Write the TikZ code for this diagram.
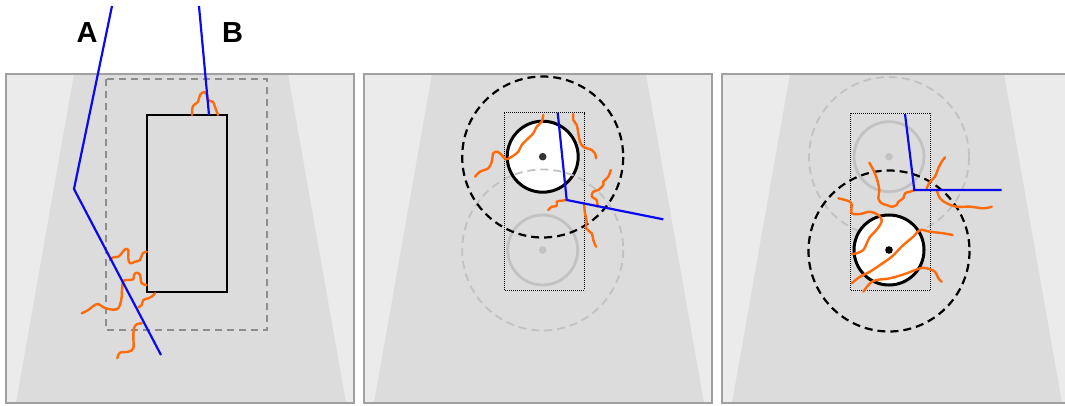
\documentclass[tikz,border=0pt]{standalone}
\usepackage{fontspec}
\setmainfont{Liberation Sans}
\usetikzlibrary{calc}

\definecolor{panelgray}{HTML}{EBEBEB}
\definecolor{roadgray}{HTML}{DCDCDC}
\definecolor{rimgray}{HTML}{A0A0A0}
\definecolor{crackorange}{HTML}{FF6A0A}
\definecolor{rayblue}{HTML}{0A0AF0}
\definecolor{ghostgray}{HTML}{C2C2C2}
\definecolor{boxgray}{HTML}{8E8E8E}

\tikzset{
  wiggle/.style={crackorange, line width=2.4pt, line cap=round, line join=round},
  ray/.style={rayblue, line width=2.2pt, line join=miter},
  zone/.style={black, line width=0.9pt, dash pattern=on 1pt off 1pt},
  reach/.style={black, line width=2.2pt, dash pattern=on 8pt off 5pt},
  ghostreach/.style={ghostgray, line width=1.8pt, dash pattern=on 8pt off 5pt},
  ghostwheel/.style={ghostgray, line width=2.8pt},
  wheel/.style={draw=black, fill=white, line width=3pt},
  tag/.style={font=\fontsize{29}{29}\selectfont\bfseries, inner sep=0pt}
}

\begin{document}
\begin{tikzpicture}[x=1pt, y=-1pt]
  \useasboundingbox (0,0) rectangle (1065,406);
  % panels
  \foreach \left in {6, 364, 722}{
    \fill[panelgray] (\left,74) rectangle ++(348,329);
    \fill[roadgray] (\left+68,74) -- (\left+282,74) -- (\left+340,403) -- (\left+10,403) -- cycle;
    \draw[rimgray, line width=1.2pt] (\left,74) rectangle ++(348,329);
  }

  % left panel
  \draw[boxgray, line width=2pt, dash pattern=on 7pt off 5pt] (106,79) rectangle (267,330);
  \draw[black, line width=2pt] (147,115) rectangle (227,292);
  \draw[wiggle] plot[smooth, tension=.6] coordinates {(192,115) (193,106) (198,102) (200,95) (204,92) (207,95) (208,100) (213,102) (215,107) (218,115)};
  \draw[wiggle] plot[smooth, tension=.6] coordinates {(146.7,251.7) (142.7,253.3) (140,260) (135,261.7) (130,263.3) (128.3,258.3) (128.3,250) (125,249.3) (121.7,253.3) (118.3,256.7) (113.3,257.3) (110,260)};
  \draw[wiggle] plot[smooth, tension=.6] coordinates {(146.7,285) (141.7,283.3) (140,275) (136.7,272.7) (134,275) (133.3,279.3) (128.3,280) (123.3,281) (122,290) (121.7,296.7) (120,305) (116.7,309.3) (110,309.3) (103.3,307.3) (98.3,304) (93.3,306) (88.3,310) (81.7,313.3)};
  \draw[wiggle] plot[smooth, tension=.6] coordinates {(155,293.3) (151.7,296.7) (148.3,298.3) (143.3,300) (141.7,305) (138.3,307.3)};
  \draw[wiggle] plot[smooth, tension=.6] coordinates {(141.7,323.3) (136.7,324.3) (134,328.3) (133.3,336.7) (133.3,348.3) (128.3,351.7) (120,352.7) (117.3,358.3)};
  \draw[ray] (112,6) -- (74,189) -- (161,355);
  \draw[ray] (199,6) -- (209,115);
  \node[tag] (labA) at (87,33) {A};
  \node[tag] (labB) at (232.5,33) {B};

  % middle panel
  \draw[wheel] (542.7,156.7) circle[radius=35.5];
  \fill[black!80] (542.7,156.7) circle[radius=3.8];
  \draw[ghostwheel] (542.7,250) circle[radius=35];
  \fill[ghostgray] (542.7,250) circle[radius=3.8];
  \draw[ghostreach] (542.7,250) circle[radius=80.5];
  \draw[zone] (504.3,112.7) rectangle (584.3,290);
  \draw[reach] (542.7,157) circle[radius=80.5];
  \draw[wiggle] plot[smooth, tension=.6] coordinates {(543.3,115) (541.7,121.7) (536.7,126.7) (533.3,133.3) (528.3,138.3) (521.7,145) (518.3,151.7) (511.7,156.7) (506,159.3) (501.7,155) (497.3,151.7) (493.3,153.3) (491.7,161.7) (488.3,168.3) (480,171.7) (475,176.7)};
  \draw[wiggle] plot[smooth, tension=.6] coordinates {(573.3,114) (573.3,120) (576.7,125) (578.3,133.3) (580,141.7) (583.3,146.7) (591.7,150) (595,153.3) (596,158.3)};
  \draw[wiggle] plot[smooth, tension=.6] coordinates {(610.7,170) (608.3,176.7) (603.3,181.7) (603.3,185) (598.3,190) (593.3,191.7) (591.7,196.7) (596.7,200) (597.3,206.7)};
  \draw[wiggle] plot[smooth, tension=.6] coordinates {(566.7,200) (561.7,200.7) (556.7,201.7) (556.7,206) (551.7,206.7) (548.3,210)};
  \draw[wiggle] plot[smooth, tension=.6] coordinates {(584,203.3) (585,213.3) (586.7,221.7) (586,228.3) (591.7,233.3) (593.3,240) (596,246.7)};
  \draw[ray] (557.7,112.7) -- (566.7,200) -- (663.3,219.3);

  % right panel
  \draw[ghostwheel] (889,156.7) circle[radius=35];
  \fill[ghostgray] (889,156.7) circle[radius=3.8];
  \draw[ghostreach] (889,157) circle[radius=80];
  \draw[wheel] (889,250) circle[radius=35];
  \fill[black] (889,250) circle[radius=3.8];
  \draw[zone] (850.7,113.3) rectangle (930.7,290.7);
  \draw[reach] (889,251) circle[radius=80.5];
  \draw[wiggle] plot[smooth, tension=.6] coordinates {(915,190) (910,191.7) (905,193.3) (903.3,198.3) (898.3,201.7) (896.7,205) (891.7,206.7) (886.7,205) (881.7,203.3) (878.3,198.3) (879.3,190) (876.7,178.3) (873.3,170) (869.3,162.7)};
  \draw[wiggle] plot[smooth, tension=.6] coordinates {(926.7,188.3) (930,181.7) (935,176.7) (938.3,168.3) (941.7,161.7) (945,157.3)};
  \draw[wiggle] plot[smooth, tension=.6] coordinates {(936.7,190) (940,198.3) (946.7,203.3) (956.7,206.7) (970,206.7) (983.3,208.3) (991.7,206.7)};
  \draw[wiggle] plot[smooth, tension=.6] coordinates {(838.3,198.3) (850,201.7) (851.7,206.7) (851.7,213.3) (860,214) (870,211.7) (878.3,215) (881.7,220) (880,225) (875,231.7) (870,236.7) (866.7,243.3) (863.3,250) (856.7,253.3) (851.7,254)};
  \draw[wiggle] plot[smooth, tension=.6] coordinates {(851.7,283.3) (860,276.7) (870,271.7) (880,265) (891.7,256.7) (903.3,245) (913.3,236.7) (920,230) (930,231.7) (943.3,233.3) (952.7,235)};
  \draw[wiggle] plot[smooth, tension=.6] coordinates {(863.3,291.7) (870,283.3) (876.7,280) (890,278.3) (906.7,273.3) (920,268.3) (926.7,268.3) (935,271.7) (938.3,278.3) (941.7,281.7)};
  \draw[ray] (905,114) -- (914.3,190) -- (1001.7,190);
\end{tikzpicture}
\end{document}
